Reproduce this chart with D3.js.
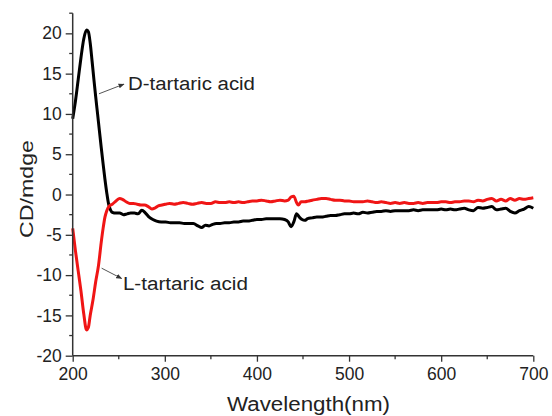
<!DOCTYPE html>
<html><head><meta charset="utf-8">
<script src="https://cdn.jsdelivr.net/npm/d3@7"></script>
<style>body{margin:0;background:#fff;} svg{display:block;font-family:"Liberation Sans",Arial,sans-serif;}</style>
</head><body>
<svg id="c" width="552" height="416"></svg>
<script>
const dWave = [200,203,206,209,212,215,217,219,221,223,225,227,229,231,233,235,237,239,241,243,247,251,255,259,263,267,271,275,279,283,287,291,296,301,306,311,316,321,326,331,336,340,344,348,352,356,360,365,370,375,380,385,390,395,400,405,410,415,420,425,430,434,437,440,443,446,449,452,455,460,465,470,475,480,485,490,495,500,505,510,515,520,525,530,535,540,545,550,555,560,565,570,575,580,585,590,595,600,605,610,615,620,625,630,635,640,645,650,655,660,665,670,675,680,685,690,695,700];
const dCD = [9.4,11.6,14.3,17.0,19.3,20.4,20.2,18.8,16.6,14.3,12.1,10.0,7.9,5.8,3.8,1.9,0.2,-1.2,-1.9,-2.2,-2.3,-2.3,-2.5,-2.4,-2.3,-2.3,-2.4,-1.95,-2.3,-2.8,-3.1,-3.3,-3.4,-3.4,-3.5,-3.5,-3.5,-3.6,-3.6,-3.6,-3.9,-4.1,-3.8,-3.9,-3.7,-3.6,-3.6,-3.5,-3.5,-3.4,-3.4,-3.3,-3.3,-3.2,-3.1,-3.1,-3.0,-3.0,-3.0,-3.0,-3.1,-3.4,-4.0,-3.4,-2.4,-2.8,-3.1,-3.2,-3.0,-2.9,-2.8,-2.8,-2.7,-2.6,-2.6,-2.5,-2.4,-2.4,-2.3,-2.4,-2.2,-2.3,-2.2,-2.1,-2.1,-2.0,-2.1,-2.0,-2.0,-2.0,-2.0,-1.9,-2.0,-1.9,-1.9,-1.9,-1.9,-1.8,-1.9,-1.8,-1.9,-1.8,-1.7,-1.9,-2.0,-1.6,-1.7,-1.6,-1.5,-1.9,-1.8,-1.7,-2.1,-2.3,-2.0,-1.8,-1.5,-1.7];

const lWave = [200,203,206,209,212,215,217,219,222,225,228,231,233,235,237,240,243,247,251,254,258,262,266,270,274,278,282,286,289,293,297,301,305,310,315,320,325,330,335,340,345,350,355,360,365,370,375,380,385,390,395,400,405,410,415,420,425,430,434,437,440,443,445,448,452,456,460,465,470,475,480,485,490,495,500,505,510,515,520,525,530,535,540,545,550,555,560,565,570,575,580,585,590,595,600,605,610,615,620,625,630,635,640,645,650,655,660,665,670,675,680,685,690,695,700];
const lCD = [-4.2,-7.0,-9.5,-12.0,-14.8,-16.8,-16.5,-15.0,-13.1,-10.8,-8.8,-5.9,-4.2,-2.8,-2.0,-1.4,-1.2,-0.8,-0.5,-0.6,-0.9,-1.1,-1.1,-1.2,-1.3,-1.3,-1.5,-1.8,-1.7,-1.4,-1.3,-1.2,-1.1,-1.2,-1.1,-1.0,-1.1,-1.2,-1.1,-1.0,-1.1,-1.1,-0.9,-1.0,-1.0,-0.9,-1.0,-0.9,-1.0,-0.9,-0.8,-0.8,-0.7,-0.8,-0.9,-0.8,-0.7,-0.8,-0.7,-0.3,-0.2,-1.0,-1.3,-0.9,-0.9,-0.8,-0.7,-0.6,-0.5,-0.5,-0.6,-0.7,-0.7,-0.8,-0.8,-0.9,-0.9,-0.9,-0.8,-0.9,-1.0,-0.9,-1.0,-1.1,-1.0,-1.1,-1.0,-1.1,-1.1,-1.0,-1.1,-1.0,-1.0,-1.0,-0.9,-0.9,-1.0,-0.9,-0.9,-0.8,-0.8,-0.9,-0.7,-0.8,-0.6,-0.5,-0.8,-0.6,-0.8,-0.5,-0.7,-0.5,-0.6,-0.5,-0.4];

const xTicks = [200,300,400,500,600,700];
const xMinor = [250,350,450,550,650];
const yTicks = [-20,-15,-10,-5,0,5,10,15,20];
const yMinor = [-17.5,-12.5,-7.5,-2.5,2.5,7.5,12.5,17.5,22.5];
const xTitle = "Wavelength(nm)";
const yTitle = "CD/mdge";
const labelD = "D-tartaric acid";
const labelL = "L-tartaric acid";

const svg = d3.select("#c");
const L = 72.7, R = 533.3, T = 13.2, B = 355.7;
const x = d3.scaleLinear().domain([200,700]).range([L,R]);
const y = d3.scaleLinear().domain([-20,22.5]).range([B,T]);
const axisColor = "#333";
const fmt = d => String(d); // hyphen-minus as in the reference

// series
const line = d3.line().x(d=>x(d[0])).y(d=>y(d[1])).curve(d3.curveMonotoneX);
const dData = dWave.map((w,i)=>[w,dCD[i]]);
const lData = lWave.map((w,i)=>[w,lCD[i]]);
svg.append("path").datum(dData).attr("d",line).attr("fill","none").attr("stroke","#000").attr("stroke-width",3).attr("stroke-linejoin","round");
svg.append("path").datum(lData).attr("d",line).attr("fill","none").attr("stroke","#f01515").attr("stroke-width",3).attr("stroke-linejoin","round");

// axes
const gx = svg.append("g").attr("transform",`translate(0,${B})`)
  .call(d3.axisBottom(x).tickValues(xTicks).tickSize(6).tickPadding(6).tickFormat(fmt));
gx.append("g").selectAll("line").data(xMinor).join("line")
  .attr("x1",d=>x(d)).attr("x2",d=>x(d)).attr("y1",0).attr("y2",3.5).attr("stroke",axisColor).attr("stroke-width",1.3);
const gy = svg.append("g").attr("transform",`translate(${L},0)`)
  .call(d3.axisLeft(y).tickValues(yTicks).tickSize(7).tickPadding(4).tickFormat(fmt));
gy.append("g").selectAll("line").data(yMinor).join("line")
  .attr("y1",d=>y(d)).attr("y2",d=>y(d)).attr("x1",0).attr("x2",-3.5).attr("stroke",axisColor).attr("stroke-width",1.3);
[gx,gy].forEach(g=>{
  g.select(".domain").attr("stroke",axisColor).attr("stroke-width",1.5);
  g.selectAll(".tick line").attr("stroke",axisColor).attr("stroke-width",1.3);
  g.selectAll(".tick text").attr("fill","#222").style("font-size","17.5px").style("font-family","'Liberation Sans',Arial,sans-serif");
});
gx.select(".domain").attr("d",`M${L},0H${R}`);
gy.select(".domain").attr("d",`M0,${B}V${T}`);

// titles
svg.append("text").attr("x",308.5).attr("y",411).attr("text-anchor","middle")
  .attr("textLength",163).attr("lengthAdjust","spacingAndGlyphs")
  .style("font-size","20px").attr("fill","#222").text(xTitle);
svg.append("text").attr("transform",`translate(33,189) rotate(-90)`).attr("text-anchor","middle")
  .attr("textLength",98).attr("lengthAdjust","spacingAndGlyphs")
  .style("font-size","19px").attr("fill","#222").text(yTitle);

// annotations
svg.append("defs").append("marker").attr("id","ah").attr("viewBox","0 0 10 10").attr("refX",9).attr("refY",5)
  .attr("markerWidth",6).attr("markerHeight",6).attr("orient","auto")
  .append("path").attr("d","M0,1L10,5L0,9z").attr("fill","#333");
svg.append("line").attr("x1",x(228.5)).attr("y1",y(12.5)).attr("x2",x(255.6)).attr("y2",y(13.7))
  .attr("stroke","#555").attr("stroke-width",1).attr("marker-end","url(#ah)");
svg.append("text").attr("x",x(260)).attr("y",y(12.94)).attr("textLength",127).attr("lengthAdjust","spacingAndGlyphs")
  .style("font-size","18px").attr("fill","#222").text(labelD);
svg.append("line").attr("x1",x(231.4)).attr("y1",y(-9.14)).attr("x2",x(253.1)).attr("y2",y(-10.42))
  .attr("stroke","#555").attr("stroke-width",1).attr("marker-end","url(#ah)");
svg.append("text").attr("x",x(254.5)).attr("y",y(-11.87)).attr("textLength",125).attr("lengthAdjust","spacingAndGlyphs")
  .style("font-size","18px").attr("fill","#222").text(labelL);
</script>
</body></html>
